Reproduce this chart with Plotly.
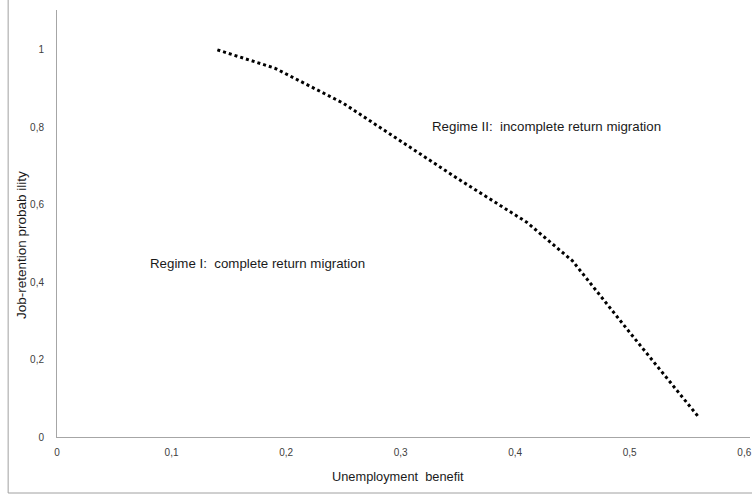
import plotly.graph_objects as go

# Data
benefit = [0.14, 0.19, 0.25, 0.30, 0.35, 0.41, 0.45, 0.50, 0.56]
retention = [1.0, 0.953, 0.862, 0.765, 0.667, 0.555, 0.455, 0.27, 0.052]

x_ticks = [0, 0.1, 0.2, 0.3, 0.4, 0.5, 0.6]
x_tick_labels = ["0", "0,1", "0,2", "0,3", "0,4", "0,5", "0,6"]
y_ticks = [0, 0.2, 0.4, 0.6, 0.8, 1.0]
y_tick_labels = ["0", "0,2", "0,4", "0,6", "0,8", "1"]

W, H = 754, 497
ML, MR, MT, MB = 57, 2, 10, 60
PW, PH = W - ML - MR, H - MT - MB

def px_x(p):
    return (p - ML) / PW

def px_y(p):
    return 1 - (p - MT) / PH

fig = go.Figure()
fig.add_trace(go.Scatter(
    x=benefit, y=retention, mode="lines",
    line=dict(color="black", width=3, dash="3px,3px"),
    showlegend=False, hoverinfo="skip"))

font_family = "Liberation Sans, Arial, sans-serif"
tick_font = dict(family=font_family, size=10, color="#404040")

fig.update_layout(
    width=W, height=H,
    margin=dict(l=ML, r=MR, t=MT, b=MB),
    paper_bgcolor="white", plot_bgcolor="white",
    xaxis=dict(range=[0, 0.605], tickvals=x_ticks, ticktext=x_tick_labels,
               showgrid=False, zeroline=False, showline=True,
               linecolor="#a6a6a6", linewidth=1, ticks="",
               tickfont=tick_font, ticklabelstandoff=6),
    yaxis=dict(range=[0, 1.103], tickvals=y_ticks, ticktext=y_tick_labels,
               showgrid=False, zeroline=False, showline=True,
               linecolor="#a6a6a6", linewidth=1, ticks="",
               tickfont=tick_font, ticklabelstandoff=10),
    font=dict(family=font_family),
)

anno_font = dict(family=font_family, size=13.3, color="#1a1a1a")
fig.add_annotation(x=0.0795, y=0.447, xref="x", yref="y", xanchor="left",
                   yanchor="middle", text="Regime I:  complete return migration",
                   showarrow=False, font=anno_font)
fig.add_annotation(x=0.3255, y=0.801, xref="x", yref="y", xanchor="left",
                   yanchor="middle", text="Regime II:  incomplete return migration",
                   showarrow=False, font=anno_font)

title_font = dict(family=font_family, size=12.8, color="#1a1a1a")
fig.add_annotation(x=px_x(399), y=px_y(476), xref="paper", yref="paper",
                   xanchor="center", yanchor="middle",
                   text="Unemployment  benefit", showarrow=False, font=title_font)
fig.add_annotation(x=px_x(22), y=px_y(245), xref="paper", yref="paper",
                   xanchor="center", yanchor="middle", textangle=-90,
                   text="Job-retention probab ility", showarrow=False,
                   font=dict(family=font_family, size=13.5, color="#1a1a1a"))

# outer frame lines (left and bottom)
fig.add_shape(type="line", xref="paper", yref="paper",
              x0=px_x(8), x1=px_x(8), y0=px_y(0), y1=px_y(493),
              line=dict(color="#a0a0a0", width=1))
fig.add_shape(type="line", xref="paper", yref="paper",
              x0=px_x(8), x1=px_x(754), y0=px_y(493), y1=px_y(493),
              line=dict(color="#a0a0a0", width=1))

fig.write_html("out.html", config={"displayModeBar": False},
               post_script="document.body.style.margin='0';document.body.style.overflow='hidden';")
